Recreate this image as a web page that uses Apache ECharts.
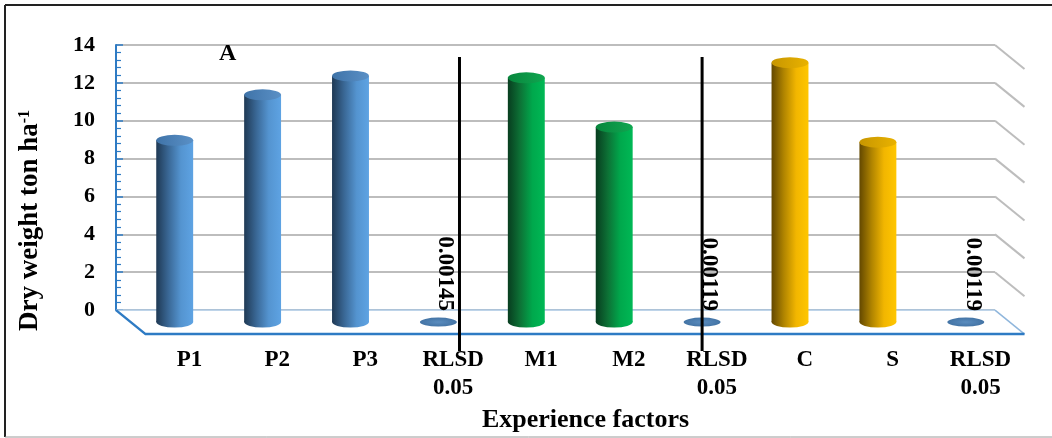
<!DOCTYPE html>
<html>
<head>
<meta charset="utf-8">
<script src="https://cdn.jsdelivr.net/npm/echarts@6/dist/echarts.min.js"></script>
<style>
  html, body { margin: 0; padding: 0; background: #ffffff; }
  #chart { width: 1052px; height: 438px; }
</style>
</head>
<body>
<div id="chart"></div>
<script>
// Dry weight (ton/ha) by experimental factor, with RLSD 0.05 after each group
const categories = ['P1', 'P2', 'P3', 'RLSD\n0.05', 'M1', 'M2', 'RLSD\n0.05', 'C', 'S', 'RLSD\n0.05'];
const dryWeight  = [9.6, 12.0, 13.0, 0.00145, 12.9, 10.3, 0.00119, 13.7, 9.5, 0.00119];
const yTicks     = [0, 2, 4, 6, 8, 10, 12, 14];

// Oblique depth of the 3-D box (floor / side wall) in pixels
const DEPTH_X = 29.5;
const DEPTH_Y = 24;
const FONT = 'Liberation Serif, Times New Roman, serif';

// Cylinder palettes per factor group
const PALETTES = {
  P: { side: ['#1F3954', '#3A6896', '#5494D0', '#5EA3E3'], top: ['#3F73A8', '#5A90C6'] },
  M: { side: ['#083D1F', '#0D7236', '#00A84C', '#00B855'], top: ['#08863D', '#10A650'] },
  G: { side: ['#634800', '#B08400', '#F2B600', '#FFC600'], top: ['#C79600', '#E9B200'] },
  R: { side: ['#3D6C9C', '#4A7CAE', '#5588BA', '#4A7CAE'], top: ['#3F6FA0', '#5A8CBE'] }
};
function paletteFor(name) {
  if (name.indexOf('RLSD') === 0) return PALETTES.R;
  if (name[0] === 'P') return PALETTES.P;
  if (name[0] === 'M') return PALETTES.M;
  return PALETTES.G;
}
function hGrad(stops) {
  return new echarts.graphic.LinearGradient(0, 0, 1, 0,
    stops.map((c, k) => ({ offset: k / (stops.length - 1), color: c })));
}

// Floor, side-wall diagonals and front edge of the 3-D box
function renderFrame(params, api) {
  const cs = params.coordSys;
  const x0 = cs.x, x1 = cs.x + cs.width;
  const y0 = api.coord([0, 0])[1];
  const children = [];
  children.push({
    type: 'polygon',
    shape: { points: [[x0, y0], [x1, y0], [x1 + DEPTH_X, y0 + DEPTH_Y], [x0 + DEPTH_X, y0 + DEPTH_Y]] },
    style: { fill: '#ffffff' }
  });
  yTicks.forEach(t => {
    if (t === 0) return;
    const y = api.coord([0, t])[1];
    children.push({
      type: 'line',
      shape: { x1: x1, y1: y, x2: x1 + DEPTH_X, y2: y + DEPTH_Y },
      style: { stroke: '#bdbdbd', lineWidth: 2 }
    });
  });
  // back and right floor edges
  children.push({ type: 'line', shape: { x1: x0, y1: y0, x2: x1, y2: y0 },
    style: { stroke: '#a9c6e2', lineWidth: 1.5 } });
  children.push({ type: 'line', shape: { x1: x1, y1: y0, x2: x1 + DEPTH_X, y2: y0 + DEPTH_Y },
    style: { stroke: '#8fb6dc', lineWidth: 1.5 } });
  // left and front floor edges
  children.push({ type: 'polyline',
    shape: { points: [[x0, y0], [x0 + DEPTH_X, y0 + DEPTH_Y], [x1 + DEPTH_X, y0 + DEPTH_Y]] },
    style: { stroke: '#2E7BC4', lineWidth: 2.5, fill: null } });
  return { type: 'group', children: children };
}

// Shaded cylinder standing half-way into the box depth
function renderCylinder(params, api) {
  const i = api.value(0);
  const v = api.value(1);
  const base = api.coord([i, 0]);
  const top = api.coord([i, v]);
  const band = api.size([1, 0])[0];
  const cx = base[0] + DEPTH_X / 2;
  const by = base[1] + DEPTH_Y / 2;
  const ty = top[1] + DEPTH_Y / 2;
  const rx = band * 0.21;
  const ry = 5.5;
  const pal = paletteFor(categories[i]);
  const children = [];
  const isRlsd = categories[i].indexOf('RLSD') === 0;
  if (isRlsd) {
    children.push({
      type: 'circle', x: cx, y: by, scaleY: 4.5 / rx,
      shape: { cx: 0, cy: 0, r: rx },
      style: { fill: new echarts.graphic.RadialGradient(0.5, 0.5, 0.6,
        [{ offset: 0, color: '#5A8CBE' }, { offset: 1, color: '#3F6FA0' }]) }
    });
    children.push({
      type: 'text',
      x: cx + 7, y: ty - 11, rotation: -Math.PI / 2,
      style: {
        text: String(v), fill: '#000000',
        font: 'bold 23px ' + FONT,
        align: 'right', verticalAlign: 'middle'
      }
    });
  } else {
    children.push({
      type: 'circle', x: cx, y: by, scaleY: ry / rx,
      shape: { cx: 0, cy: 0, r: rx },
      style: { fill: hGrad(pal.side) }
    });
    children.push({
      type: 'rect',
      shape: { x: cx - rx, y: ty, width: rx * 2, height: by - ty },
      style: { fill: hGrad(pal.side) }
    });
    children.push({
      type: 'circle', x: cx, y: ty, scaleY: ry / rx,
      shape: { cx: 0, cy: 0, r: rx },
      style: { fill: hGrad(pal.top) }
    });
  }
  return { type: 'group', children: children };
}

// Black separators between factor groups (category index + fraction of a band)
const SEPARATORS = [[3, 0.24], [6, 0.0]];
function renderSeparator(params, api) {
  const idx = api.value(0);
  const frac = api.value(1);
  const band = api.size([1, 0])[0];
  const x = api.coord([idx, 0])[0] + DEPTH_X / 2 + frac * band;
  const yTop = api.coord([0, 14])[1] + DEPTH_Y / 2;
  const yBot = api.coord([0, 0])[1] + DEPTH_Y + 17;
  return { type: 'line', shape: { x1: x, y1: yTop, x2: x, y2: yBot },
    style: { stroke: '#000000', lineWidth: 3 } };
}

const chart = echarts.init(document.getElementById('chart'), null, { renderer: 'canvas' });
chart.setOption({
  animation: false,
  backgroundColor: '#ffffff',
  title: {
    text: 'A', left: 214, top: 37,
    textStyle: { fontFamily: FONT, fontWeight: 'bold', fontSize: 24, color: '#000' }
  },
  grid: { left: 116, right: 57, top: 45, bottom: 123 },
  xAxis: {
    type: 'category',
    data: categories,
    axisLine: { show: false },
    axisTick: { show: false },
    axisLabel: {
      interval: 0, margin: 36, padding: [0, 0, 0, 59],
      fontFamily: FONT, fontWeight: 'bold', fontSize: 23, lineHeight: 28, color: '#000'
    },
    name: 'Experience factors',
    nameLocation: 'middle',
    nameGap: 92,
    nameTextStyle: { fontFamily: FONT, fontWeight: 'bold', fontSize: 26, color: '#000', padding: [0, 0, 0, 60] }
  },
  yAxis: {
    type: 'value', min: 0, max: 14, interval: 2,
    axisLine: { show: true, lineStyle: { color: '#2E7BC4', width: 2 } },
    axisTick: { show: true, inside: true, length: 7, lineStyle: { color: '#2E7BC4', width: 1.5 } },
    minorTick: { show: true, splitNumber: 5, length: 5, lineStyle: { color: '#2E7BC4', width: 1.2 } },
    splitLine: { show: true, lineStyle: { color: '#bdbdbd', width: 2 } },
    axisLabel: {
      margin: 21, fontFamily: FONT, fontWeight: 'bold', fontSize: 22, color: '#000',
      formatter: v => (yTicks.indexOf(v) >= 0 ? String(v) : '')
    },
    name: '{a|Dry weight ton ha}{s|-1}',
    nameLocation: 'middle',
    nameRotate: 90,
    nameGap: 72,
    nameTextStyle: {
      padding: [0, 86, 0, 0],
      rich: {
        a: { fontFamily: FONT, fontWeight: 'bold', fontSize: 27, color: '#000' },
        s: { fontFamily: FONT, fontWeight: 'bold', fontSize: 16, color: '#000', verticalAlign: 'top' }
      }
    }
  },
  graphic: [
    { type: 'line', shape: { x1: 5, y1: 5, x2: 1052, y2: 5 }, style: { stroke: '#222', lineWidth: 2 } },
    { type: 'line', shape: { x1: 5, y1: 5, x2: 5, y2: 437 }, style: { stroke: '#222', lineWidth: 2 } },
    { type: 'line', shape: { x1: 5, y1: 437, x2: 1052, y2: 437 }, style: { stroke: '#9a9a9a', lineWidth: 1 } }
  ],
  series: [
    {
      type: 'custom', name: 'frame', clip: false, z: 1, silent: true,
      renderItem: renderFrame, data: [[0, 0]]
    },
    {
      type: 'custom', name: 'Dry weight', clip: false, z: 2,
      renderItem: renderCylinder,
      data: dryWeight.map((v, i) => [i, v])
    },
    {
      type: 'custom', name: 'separators', clip: false, z: 5, silent: true,
      renderItem: renderSeparator, data: SEPARATORS
    }
  ]
});
</script>
</body>
</html>
